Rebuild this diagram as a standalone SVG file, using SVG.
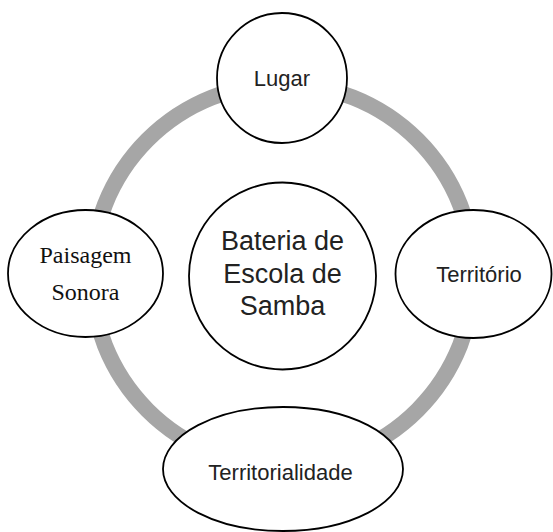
<svg xmlns="http://www.w3.org/2000/svg" width="553" height="532" viewBox="0 0 553 532">
<style>
.n{fill:#fff;stroke:#000;stroke-width:1.8}
.s{font-family:"Liberation Sans",Arial,sans-serif;fill:#222;text-anchor:middle}
.t{font-family:"Liberation Serif","Times New Roman",serif;fill:#111;text-anchor:middle;font-size:24px}
</style>
<rect width="553" height="532" fill="#fff"/>
<g id="connectors">
<circle cx="282.5" cy="275" r="191" fill="none" stroke="#a6a6a6" stroke-width="16"/>
</g>
<g id="lugar">
<circle class="n" cx="282" cy="78" r="65"/>
<text class="s" x="282" y="86" font-size="22">Lugar</text>
</g>
<g id="bateria">
<circle class="n" cx="282.5" cy="276" r="93.5"/>
<text class="s" x="282.5" y="250" font-size="27">Bateria de</text>
<text class="s" x="282.5" y="283" font-size="27">Escola de</text>
<text class="s" x="282.5" y="315" font-size="27">Samba</text>
</g>
<g id="paisagem">
<ellipse class="n" cx="85.5" cy="273.5" rx="77.5" ry="63.5"/>
<text class="t" x="85.5" y="263">Paisagem</text>
<text class="t" x="85.5" y="300">Sonora</text>
</g>
<g id="territorio">
<ellipse class="n" cx="473.5" cy="274" rx="78" ry="64"/>
<text class="s" x="479" y="282" font-size="22">Território</text>
</g>
<g id="territorialidade">
<ellipse class="n" cx="283" cy="469" rx="120" ry="62"/>
<text class="s" x="280.5" y="480" font-size="22">Territorialidade</text>
</g>
</svg>
